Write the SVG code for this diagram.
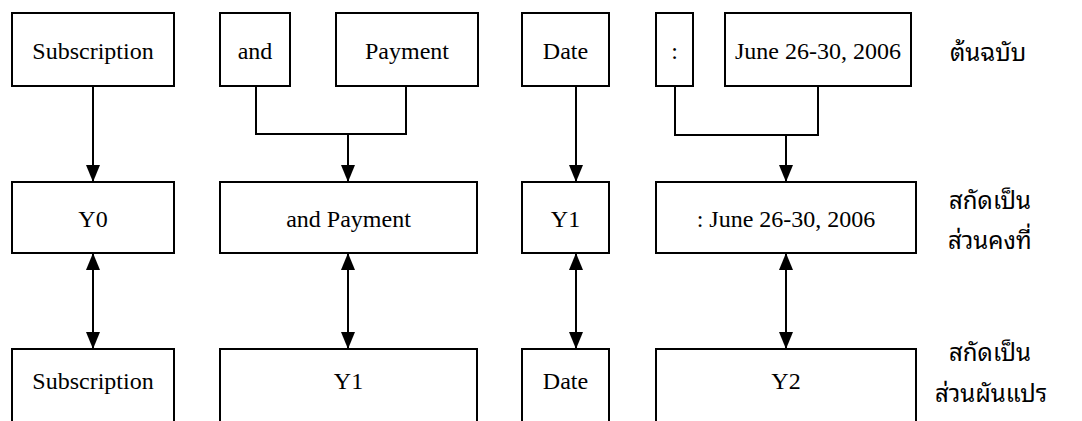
<svg xmlns="http://www.w3.org/2000/svg" width="1082" height="421" viewBox="0 0 1082 421">
  <style>
    .box { fill: #ffffff; stroke: #000000; stroke-width: 2; }
    .lbl { font-family: "Liberation Serif", "Times New Roman", serif; font-size: 24px; fill: #000000; text-anchor: middle; }
    .thai { font-family: "Noto Sans Thai Looped", "Noto Serif Thai", "Noto Sans Thai", "Loma", "Garuda", "Noto Sans", sans-serif; font-size: 24px; fill: #000000; }
    .wire { fill: none; stroke: #000000; stroke-width: 2; }
  </style>
  <defs>
    <marker id="head" viewBox="0 0 17 14" refX="17" refY="7" markerWidth="17" markerHeight="14" markerUnits="userSpaceOnUse" orient="auto-start-reverse">
      <path d="M0,0 L17,7 L0,14 Z" fill="#000000"/>
    </marker>
  </defs>
  <rect width="1082" height="421" fill="#ffffff"/>

  <!-- connectors -->
  <g id="connectors">
    <!-- source words to extracted row -->
    <path class="wire" d="M93,86 V182" marker-end="url(#head)"/>
    <path class="wire" d="M256,86 V134 H406 V86"/>
    <path class="wire" d="M348,134 V182" marker-end="url(#head)"/>
    <path class="wire" d="M576,86 V182" marker-end="url(#head)"/>
    <path class="wire" d="M675,86 V135 H818 V86"/>
    <path class="wire" d="M786,135 V182" marker-end="url(#head)"/>
    <!-- extracted row to variable row -->
    <path class="wire" d="M93,253 V349" marker-start="url(#head)" marker-end="url(#head)"/>
    <path class="wire" d="M348,253 V349" marker-start="url(#head)" marker-end="url(#head)"/>
    <path class="wire" d="M576,253 V349" marker-start="url(#head)" marker-end="url(#head)"/>
    <path class="wire" d="M786,253 V349" marker-start="url(#head)" marker-end="url(#head)"/>
  </g>

  <!-- row 1: original words -->
  <g id="src-subscription"><rect class="box" x="12" y="13" width="162" height="73"/><text class="lbl" x="93" y="59">Subscription</text></g>
  <g id="src-and"><rect class="box" x="220" y="13" width="70" height="73"/><text class="lbl" x="255" y="59">and</text></g>
  <g id="src-payment"><rect class="box" x="336" y="13" width="142" height="73"/><text class="lbl" x="407" y="59">Payment</text></g>
  <g id="src-date"><rect class="box" x="522" y="13" width="87" height="73"/><text class="lbl" x="565.5" y="59">Date</text></g>
  <g id="src-colon"><rect class="box" x="656" y="13" width="37" height="73"/><text class="lbl" x="674.5" y="59">:</text></g>
  <g id="src-june"><rect class="box" x="725" y="13" width="186" height="73"/><text class="lbl" x="818" y="59">June 26-30, 2006</text></g>
  <g id="cap-original"><text class="thai" x="950" y="61">ต้นฉบับ</text></g>

  <!-- row 2: constant parts -->
  <g id="const-y0"><rect class="box" x="12" y="182" width="162" height="71"/><text class="lbl" x="93" y="227">Y0</text></g>
  <g id="const-andpayment"><rect class="box" x="220" y="182" width="257" height="71"/><text class="lbl" x="348.5" y="227">and Payment</text></g>
  <g id="const-y1"><rect class="box" x="522" y="182" width="87" height="71"/><text class="lbl" x="565.5" y="227">Y1</text></g>
  <g id="const-june"><rect class="box" x="656" y="182" width="260" height="71"/><text class="lbl" x="786" y="227">: June 26-30, 2006</text></g>
  <g id="cap-constant">
    <text class="thai" x="949" y="209">สกัดเป็น</text>
    <text class="thai" x="948" y="249">ส่วนคงที่</text>
  </g>

  <!-- row 3: variable parts -->
  <g id="var-subscription"><rect class="box" x="12" y="349" width="162" height="80"/><text class="lbl" x="93" y="389">Subscription</text></g>
  <g id="var-y1"><rect class="box" x="220" y="349" width="257" height="80"/><text class="lbl" x="348.5" y="389">Y1</text></g>
  <g id="var-date"><rect class="box" x="522" y="349" width="87" height="80"/><text class="lbl" x="565.5" y="389">Date</text></g>
  <g id="var-y2"><rect class="box" x="656" y="349" width="260" height="80"/><text class="lbl" x="786" y="389">Y2</text></g>
  <g id="cap-variable">
    <text class="thai" x="949" y="361">สกัดเป็น</text>
    <text class="thai" x="935" y="402">ส่วนผันแปร</text>
  </g>
</svg>
